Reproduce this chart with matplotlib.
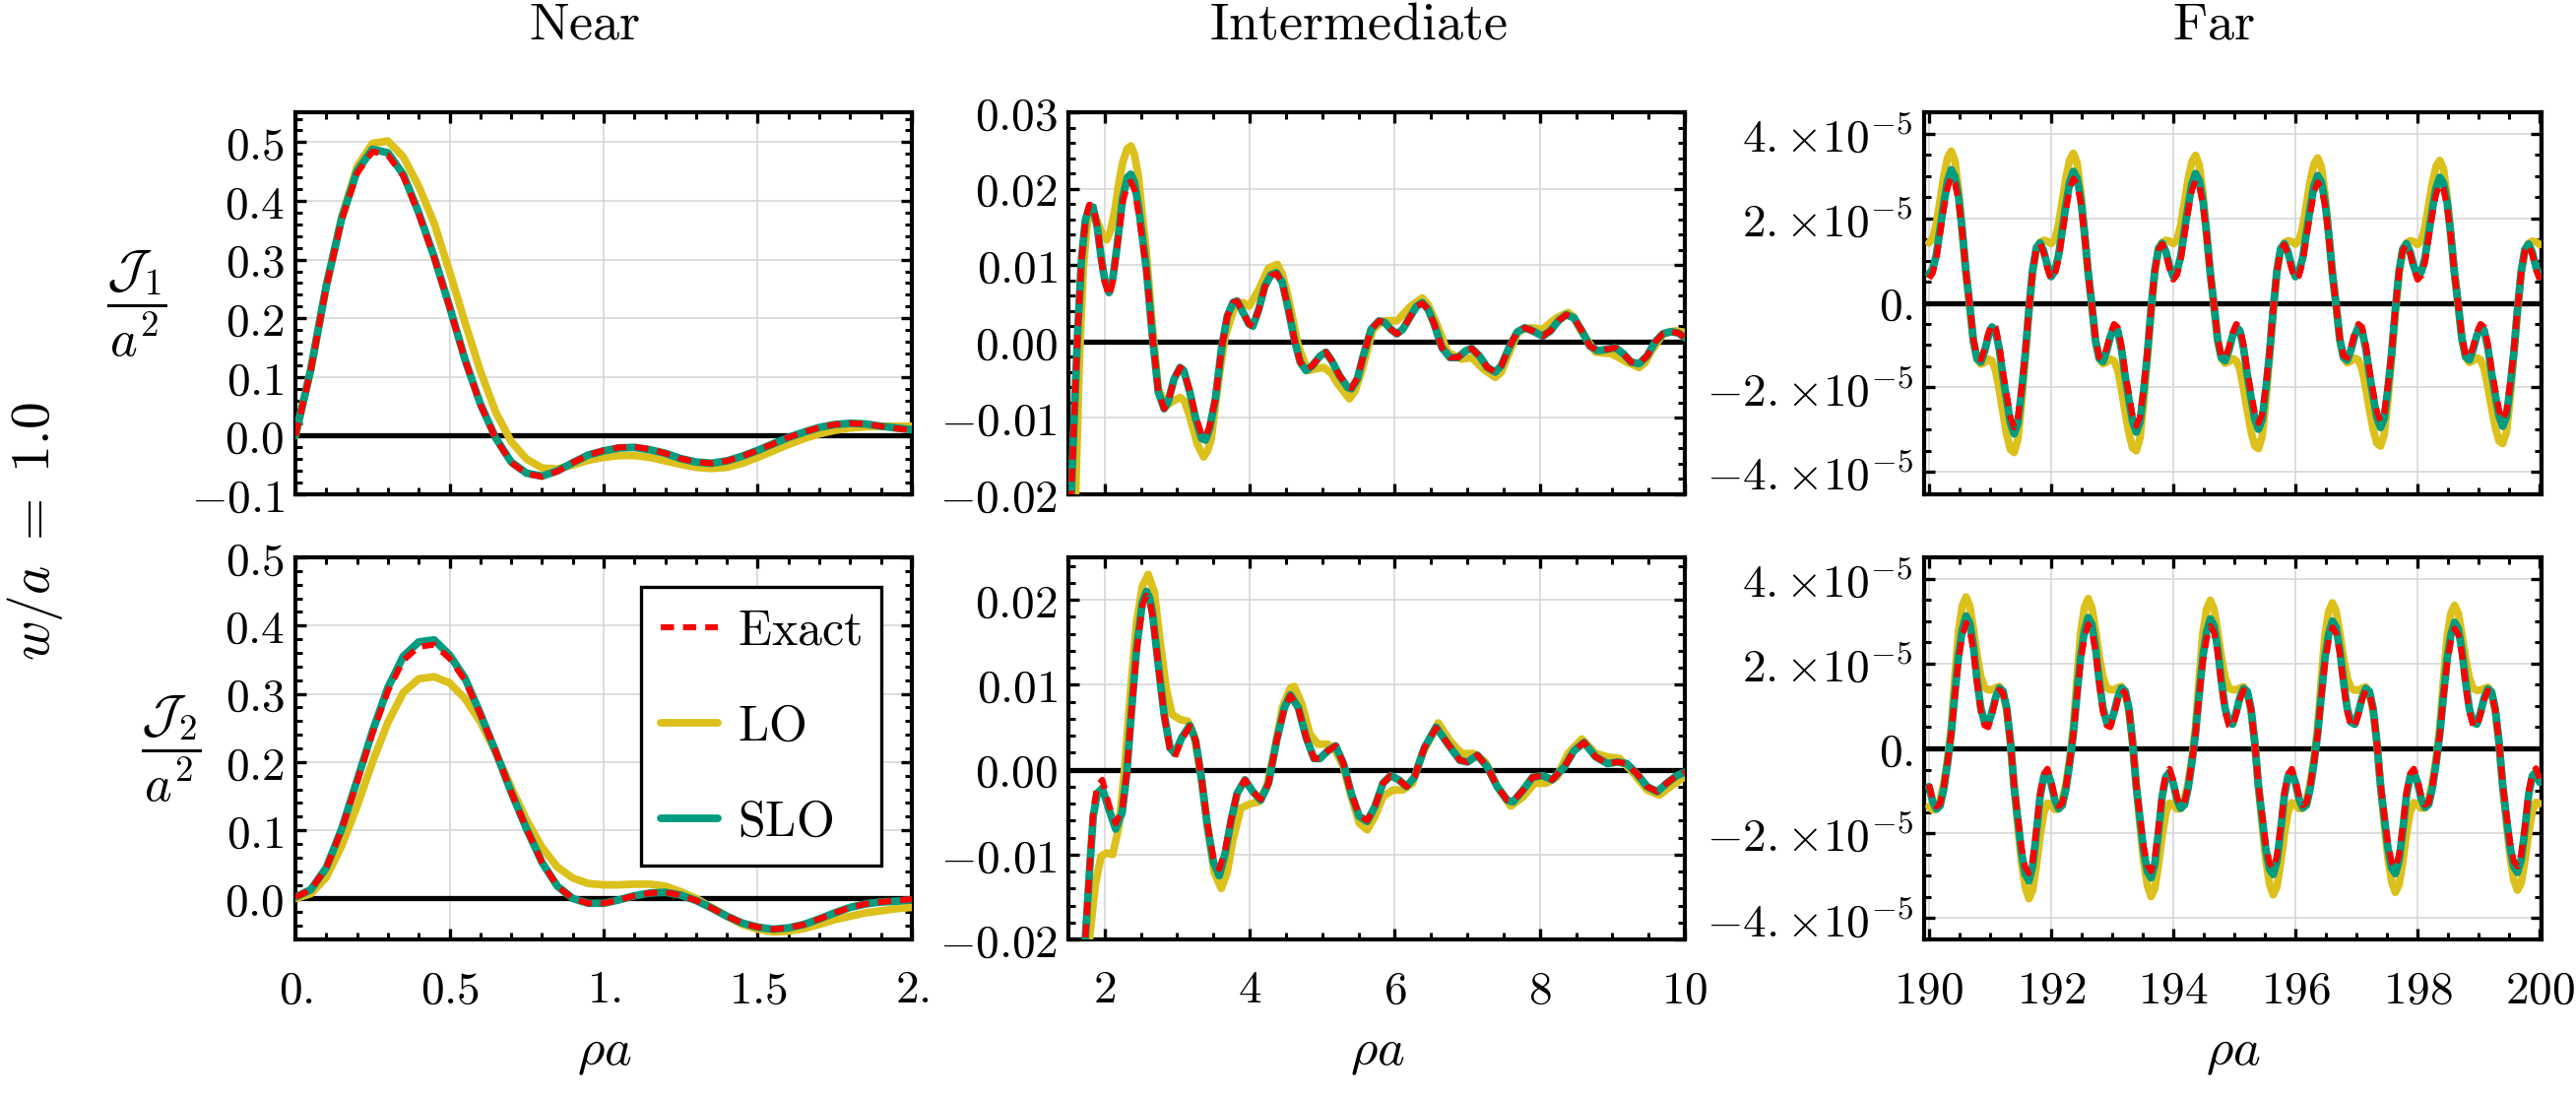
import numpy as np
import matplotlib
matplotlib.use("Agg")
import matplotlib.pyplot as plt
from matplotlib.ticker import MultipleLocator

plt.rcParams['mathtext.fontset'] = 'cm'
plt.rcParams['font.family'] = 'DejaVu Serif'

RED = '#ff0000'
GOLD = '#dcc01c'
TEAL = '#009c7f'
GRID = '#d5d5d5'

# ---------------- Near (rho a in [0, 2]) ----------------
near_x = np.linspace(0, 2, 41)

near1_slo = [0.0, 0.113, 0.255, 0.37, 0.451, 0.488, 0.482, 0.445, 0.38, 0.305,
             0.22, 0.13, 0.054, -0.004, -0.045, -0.064, -0.069, -0.06, -0.046, -0.033,
             -0.026, -0.021, -0.02, -0.024, -0.03, -0.039, -0.045, -0.047, -0.043, -0.035,
             -0.025, -0.014, -0.003, 0.006, 0.014, 0.019, 0.021, 0.02, 0.016, 0.013, 0.01]
near1_exact = [0.0, 0.112, 0.253, 0.367, 0.447, 0.484, 0.478, 0.442, 0.378, 0.303,
               0.219, 0.129, 0.053, -0.005, -0.046, -0.065, -0.07, -0.061, -0.046, -0.033,
               -0.025, -0.02, -0.019, -0.023, -0.03, -0.039, -0.045, -0.047, -0.043, -0.035,
               -0.025, -0.014, -0.003, 0.006, 0.014, 0.019, 0.021, 0.02, 0.016, 0.012, 0.009]
near1_lo = [0.0, 0.113, 0.255, 0.372, 0.458, 0.498, 0.502, 0.475, 0.425, 0.362,
            0.28, 0.193, 0.11, 0.04, -0.01, -0.04, -0.055, -0.057, -0.05, -0.042,
            -0.037, -0.034, -0.034, -0.037, -0.043, -0.049, -0.054, -0.056, -0.054, -0.047,
            -0.037, -0.026, -0.015, -0.005, 0.003, 0.009, 0.013, 0.015, 0.016, 0.016, 0.016]

near2_slo = [0.002, 0.013, 0.045, 0.102, 0.173, 0.245, 0.309, 0.355, 0.376, 0.379,
             0.357, 0.323, 0.271, 0.215, 0.156, 0.102, 0.053, 0.018, 0.0, -0.007,
             -0.007, -0.002, 0.004, 0.008, 0.009, 0.005, -0.003, -0.014, -0.026, -0.036,
             -0.042, -0.045, -0.043, -0.038, -0.03, -0.021, -0.013, -0.008, -0.005, -0.004, -0.002]
near2_exact = [0.002, 0.013, 0.045, 0.101, 0.171, 0.242, 0.304, 0.349, 0.369, 0.372,
               0.352, 0.32, 0.27, 0.215, 0.156, 0.102, 0.053, 0.018, 0.0, -0.007,
               -0.007, -0.002, 0.004, 0.008, 0.009, 0.005, -0.003, -0.014, -0.026, -0.036,
               -0.042, -0.045, -0.043, -0.038, -0.03, -0.021, -0.013, -0.008, -0.005, -0.003, -0.001]
near2_lo = [0.0, 0.007, 0.031, 0.077, 0.135, 0.2, 0.258, 0.302, 0.322, 0.325,
            0.316, 0.293, 0.259, 0.214, 0.163, 0.115, 0.075, 0.046, 0.03, 0.022,
            0.02, 0.02, 0.021, 0.021, 0.018, 0.01, 0.0, -0.013, -0.026, -0.038,
            -0.045, -0.049, -0.048, -0.044, -0.038, -0.031, -0.026, -0.021, -0.018, -0.015, -0.013]

# ---------------- Intermediate (rho a in [1.5, 10]) ----------------
inter1_x = [1.5, 1.54, 1.57, 1.625, 1.68, 1.734, 1.788, 1.84, 1.897, 1.95,
            2.0, 2.06, 2.11, 2.17, 2.25, 2.315, 2.36, 2.41, 2.467, 2.52,
            2.576, 2.658, 2.74, 2.82, 2.875, 2.957, 3.04, 3.09, 3.174, 3.255,
            3.337, 3.39, 3.446, 3.527, 3.61, 3.69, 3.77, 3.826, 3.908, 3.99,
            4.043, 4.125, 4.207, 4.29, 4.37, 4.45, 4.533, 4.614, 4.696, 4.777,
            4.86, 4.97, 5.05, 5.13, 5.24, 5.35, 5.4, 5.484, 5.565, 5.674,
            5.783, 5.86, 5.946, 6.03, 6.11, 6.217, 6.3, 6.38, 6.46, 6.543,
            6.65, 6.76, 6.87, 6.98, 7.06, 7.168, 7.277, 7.386, 7.467, 7.576,
            7.685, 7.793, 7.9, 8.04, 8.147, 8.255, 8.364, 8.47, 8.58, 8.69,
            8.8, 8.935, 9.043, 9.152, 9.26, 9.37, 9.478, 9.587, 9.696, 9.804,
            9.913, 10.0]
inter1_slo = [-0.03, -0.02, -0.0122, 0.0007, 0.0107, 0.0159, 0.0176, 0.0176, 0.015, 0.0111,
              0.0081, 0.0064, 0.0081, 0.0124, 0.0189, 0.0215, 0.0219, 0.0209, 0.0176, 0.0137,
              0.0094, 0.0007, -0.0066, -0.0088, -0.0079, -0.0049, -0.0034, -0.0038, -0.0066, -0.0101,
              -0.0127, -0.0129, -0.0114, -0.0075, -0.001, 0.0033, 0.0051, 0.0053, 0.0038, 0.0023,
              0.002, 0.0042, 0.0072, 0.0087, 0.009, 0.0077, 0.0042, 0.0003, -0.0027, -0.0038,
              -0.0032, -0.0019, -0.0014, -0.0025, -0.0045, -0.006, -0.0062, -0.0049, -0.0019, 0.0016,
              0.0027, 0.0025, 0.0016, 0.001, 0.0016, 0.0033, 0.0046, 0.0051, 0.0042, 0.0023,
              -0.0008, -0.0021, -0.0021, -0.0012, -0.0009, -0.0019, -0.0034, -0.004, -0.0032, -0.0008,
              0.0012, 0.0018, 0.0014, 0.0007, 0.0014, 0.0027, 0.0035, 0.0031, 0.0014, -0.0006,
              -0.0012, -0.001, -0.0008, -0.0016, -0.0027, -0.0029, -0.0019, -0.0001, 0.001, 0.0013,
              0.0011, 0.0005]
inter1_exact = [-0.03, -0.02, -0.0122, 0.0007, 0.0107, 0.016, 0.0179, 0.0178, 0.0151, 0.0109,
                0.0078, 0.0059, 0.0078, 0.0121, 0.0183, 0.0205, 0.0209, 0.0199, 0.0168, 0.0132,
                0.0092, 0.0007, -0.0066, -0.0088, -0.0079, -0.0049, -0.0034, -0.0038, -0.0065, -0.0098,
                -0.0122, -0.0125, -0.0111, -0.0074, -0.001, 0.0033, 0.0051, 0.0053, 0.0038, 0.0023,
                0.002, 0.0042, 0.0071, 0.0086, 0.0089, 0.0076, 0.0042, 0.0003, -0.0027, -0.0037,
                -0.0032, -0.0019, -0.0014, -0.0025, -0.0045, -0.0059, -0.0061, -0.0048, -0.0019, 0.0016,
                0.0027, 0.0025, 0.0016, 0.001, 0.0016, 0.0033, 0.0046, 0.005, 0.0042, 0.0023,
                -0.0008, -0.0021, -0.0021, -0.0012, -0.0009, -0.0019, -0.0034, -0.004, -0.0032, -0.0008,
                0.0012, 0.0018, 0.0014, 0.0007, 0.0014, 0.0027, 0.0035, 0.0031, 0.0014, -0.0006,
                -0.0012, -0.001, -0.0008, -0.0016, -0.0027, -0.0029, -0.0019, -0.0001, 0.001, 0.0013,
                0.0011, 0.0005]
inter1_lo_x = [1.58, 1.6, 1.652, 1.707, 1.76, 1.79, 1.84, 1.92, 1.98, 2.03,
               2.08, 2.14, 2.2, 2.25, 2.31, 2.36, 2.41, 2.467, 2.52, 2.576,
               2.658, 2.74, 2.85, 2.93, 3.04, 3.1, 3.17, 3.28, 3.364, 3.42,
               3.47, 3.58, 3.663, 3.8, 3.91, 3.99, 4.125, 4.26, 4.38, 4.45,
               4.53, 4.67, 4.8, 4.9, 5.02, 5.13, 5.21, 5.375, 5.45, 5.54,
               5.7, 5.84, 6.03, 6.217, 6.38, 6.46, 6.57, 6.73, 6.92, 7.06,
               7.22, 7.386, 7.47, 7.55, 7.71, 7.875, 8.04, 8.23, 8.39, 8.47,
               8.554, 8.77, 8.99, 9.2, 9.37, 9.45, 9.53, 9.7, 9.86, 10.0]
inter1_lo = [-0.03, -0.02, -0.0023, 0.0098, 0.0155, 0.0163, 0.017, 0.0152, 0.0138, 0.0133,
             0.0145, 0.0172, 0.021, 0.0235, 0.0252, 0.0256, 0.0245, 0.0215, 0.0165, 0.0116,
             0.002, -0.0062, -0.0084, -0.0079, -0.0073, -0.0078, -0.0097, -0.0135, -0.0151, -0.0143,
             -0.0127, -0.0045, 0.0007, 0.0048, 0.0051, 0.0046, 0.0068, 0.0096, 0.0101, 0.0088,
             0.0059, -0.0006, -0.0038, -0.0036, -0.0034, -0.0042, -0.0055, -0.0075, -0.0065, -0.004,
             0.0016, 0.0027, 0.0027, 0.0046, 0.0057, 0.0048, 0.0025, -0.0014, -0.0023, -0.0021,
             -0.0036, -0.0047, -0.004, -0.0021, 0.0014, 0.0018, 0.0016, 0.0031, 0.0038, 0.0032,
             0.0016, -0.0014, -0.0016, -0.0027, -0.0034, -0.0028, -0.0014, 0.001, 0.0014, 0.0012]

inter2_x = [1.7, 1.734, 1.79, 1.842, 1.897, 1.967, 2.06, 2.152, 2.24, 2.304,
            2.37, 2.44, 2.52, 2.576, 2.62, 2.658, 2.74, 2.82, 2.9, 2.967,
            3.065, 3.174, 3.255, 3.337, 3.418, 3.5, 3.58, 3.663, 3.745, 3.826,
            3.935, 4.043, 4.152, 4.26, 4.37, 4.478, 4.56, 4.67, 4.777, 4.886,
            4.967, 5.076, 5.185, 5.293, 5.4, 5.51, 5.62, 5.728, 5.837, 5.946,
            6.054, 6.163, 6.27, 6.41, 6.57, 6.734, 6.897, 7.005, 7.14, 7.277,
            7.413, 7.55, 7.63, 7.77, 7.9, 8.04, 8.17, 8.337, 8.47, 8.61,
            8.77, 8.935, 9.07, 9.2, 9.34, 9.48, 9.62, 9.75, 9.89, 10.0]
inter2_slo = [-0.025, -0.0198, -0.0121, -0.0055, -0.0028, -0.0022, -0.0047, -0.007, -0.0051, -0.0005,
              0.0069, 0.0143, 0.0197, 0.021, 0.0202, 0.0185, 0.0123, 0.0065, 0.0026, 0.0019,
              0.0038, 0.0052, 0.0034, -0.0012, -0.0067, -0.0109, -0.0125, -0.0098, -0.0059, -0.0028,
              -0.0012, -0.0026, -0.0036, -0.0016, 0.0034, 0.0073, 0.0088, 0.0073, 0.0038, 0.0013,
              0.0013, 0.0022, 0.0028, 0.0007, -0.0028, -0.0055, -0.0061, -0.0043, -0.0016, -0.0007,
              -0.0012, -0.002, -0.0009, 0.0026, 0.005, 0.003, 0.0011, 0.0009, 0.0017, 0.0003,
              -0.002, -0.0036, -0.0038, -0.0024, -0.0009, -0.0007, -0.0012, 0.0003, 0.0022, 0.0032,
              0.0015, 0.0007, 0.0009, 0.0007, -0.0005, -0.002, -0.0026, -0.0016, -0.0007, -0.0003]
inter2_exact = [-0.025, -0.0198, -0.0118, -0.0048, -0.002, -0.0012, -0.0042, -0.0063, -0.0048, -0.0005,
                0.0068, 0.0139, 0.0193, 0.0205, 0.0198, 0.0182, 0.0122, 0.0064, 0.0024, 0.0015,
                0.0036, 0.0051, 0.0034, -0.0012, -0.0065, -0.0104, -0.0117, -0.0094, -0.0058, -0.0027,
                -0.0012, -0.0026, -0.0035, -0.0016, 0.0034, 0.0072, 0.0087, 0.0072, 0.0038, 0.0013,
                0.0013, 0.0022, 0.0028, 0.0007, -0.0028, -0.0054, -0.006, -0.0043, -0.0016, -0.0007,
                -0.0012, -0.002, -0.0009, 0.0026, 0.0049, 0.003, 0.0011, 0.0009, 0.0017, 0.0003,
                -0.002, -0.0036, -0.0037, -0.0024, -0.0009, -0.0007, -0.0012, 0.0003, 0.0022, 0.0032,
                0.0015, 0.0007, 0.0009, 0.0007, -0.0005, -0.002, -0.0026, -0.0016, -0.0007, -0.0003]
inter2_lo_x = [1.77, 1.79, 1.87, 1.95, 2.03, 2.11, 2.196, 2.277, 2.36, 2.44,
               2.52, 2.6, 2.685, 2.766, 2.848, 2.93, 3.04, 3.147, 3.228, 3.337,
               3.418, 3.51, 3.608, 3.69, 3.77, 3.88, 4.016, 4.125, 4.234, 4.342,
               4.45, 4.56, 4.614, 4.72, 4.83, 4.94, 5.076, 5.185, 5.293, 5.4,
               5.51, 5.62, 5.728, 5.837, 5.973, 6.11, 6.245, 6.38, 6.6, 6.76,
               6.924, 7.087, 7.25, 7.413, 7.6, 7.77, 7.93, 8.09, 8.23, 8.39,
               8.58, 8.77, 8.935, 9.1, 9.26, 9.48, 9.65, 9.8, 10.0]
inter2_lo = [-0.026, -0.02, -0.0136, -0.0102, -0.0098, -0.01, -0.0067, 0.0003, 0.0096, 0.0174,
             0.0216, 0.023, 0.0209, 0.015, 0.0096, 0.0065, 0.0059, 0.0057, 0.0042, -0.0012,
             -0.0067, -0.0121, -0.014, -0.0121, -0.0082, -0.0045, -0.004, -0.0038, -0.002, 0.0022,
             0.0073, 0.0096, 0.0098, 0.0077, 0.0042, 0.003, 0.003, 0.0022, 0.0003, -0.0032,
             -0.0063, -0.0071, -0.0055, -0.0032, -0.0024, -0.0024, -0.0016, 0.0019, 0.0055, 0.0034,
             0.0019, 0.0019, 0.0009, -0.002, -0.0043, -0.0032, -0.0016, -0.0016, -0.0009, 0.0019,
             0.0036, 0.0019, 0.0015, 0.0013, -0.0001, -0.0024, -0.003, -0.002, -0.0008]

# ---------------- Far (rho a in [190, 200]), values in units of 1e-5 ----------------
# one sub-list per 2-unit oscillation (33 samples each) plus the closing sample at 200
far_x = np.linspace(190, 200, 166)

far1_slo = [
    [0.68, 0.8, 1.15, 1.75, 2.35, 2.88, 3.15, 2.98, 2.5, 1.7, 0.72, -0.05, -0.9, -1.33, -1.4, -1.15, -0.8,
     -0.57, -0.66, -1.1, -1.75, -2.3, -2.84, -3.1, -2.85, -2.1, -1.22, -0.15, 0.78, 1.3, 1.42, 1.22, 0.88],
    [0.62, 0.76, 1.12, 1.72, 2.32, 2.85, 3.11, 2.95, 2.47, 1.68, 0.72, -0.05, -0.9, -1.32, -1.39, -1.14, -0.8,
     -0.57, -0.66, -1.1, -1.74, -2.28, -2.8, -3.06, -2.82, -2.08, -1.21, -0.15, 0.77, 1.29, 1.41, 1.21, 0.87],
    [0.62, 0.75, 1.1, 1.7, 2.28, 2.8, 3.06, 2.9, 2.43, 1.65, 0.7, -0.05, -0.88, -1.3, -1.37, -1.13, -0.79,
     -0.57, -0.66, -1.08, -1.7, -2.24, -2.74, -2.99, -2.76, -2.04, -1.2, -0.15, 0.76, 1.28, 1.4, 1.2, 0.86],
    [0.62, 0.74, 1.08, 1.67, 2.24, 2.76, 3.01, 2.86, 2.4, 1.63, 0.69, -0.05, -0.87, -1.29, -1.36, -1.12, -0.79,
     -0.57, -0.65, -1.07, -1.68, -2.21, -2.71, -2.95, -2.73, -2.02, -1.19, -0.15, 0.75, 1.27, 1.4, 1.2, 0.86],
    [0.62, 0.73, 1.06, 1.64, 2.21, 2.72, 2.97, 2.83, 2.37, 1.61, 0.68, -0.05, -0.86, -1.28, -1.35, -1.11, -0.78,
     -0.57, -0.65, -1.06, -1.66, -2.18, -2.67, -2.92, -2.7, -2.0, -1.18, -0.15, 0.74, 1.26, 1.39, 1.19, 0.85],
    [0.62],
]
far1_exact = [
    [0.58, 0.7, 1.05, 1.65, 2.23, 2.73, 2.98, 2.84, 2.4, 1.64, 0.7, -0.05, -0.87, -1.29, -1.34, -1.08, -0.72,
     -0.5, -0.58, -1.02, -1.65, -2.18, -2.7, -2.95, -2.72, -2.02, -1.18, -0.14, 0.76, 1.27, 1.4, 1.18, 0.8],
    [0.55, 0.67, 1.02, 1.62, 2.2, 2.7, 2.94, 2.81, 2.37, 1.62, 0.7, -0.05, -0.87, -1.28, -1.33, -1.07, -0.72,
     -0.5, -0.58, -1.02, -1.64, -2.16, -2.66, -2.91, -2.69, -2.0, -1.17, -0.14, 0.75, 1.26, 1.39, 1.17, 0.8],
    [0.55, 0.66, 1.0, 1.6, 2.16, 2.65, 2.9, 2.76, 2.33, 1.59, 0.68, -0.05, -0.85, -1.26, -1.31, -1.06, -0.71,
     -0.5, -0.58, -1.0, -1.61, -2.12, -2.6, -2.84, -2.63, -1.96, -1.16, -0.14, 0.74, 1.25, 1.38, 1.16, 0.79],
    [0.55, 0.65, 0.98, 1.57, 2.12, 2.61, 2.85, 2.72, 2.3, 1.57, 0.67, -0.05, -0.84, -1.25, -1.3, -1.05, -0.71,
     -0.5, -0.57, -0.99, -1.59, -2.09, -2.57, -2.8, -2.6, -1.94, -1.15, -0.14, 0.73, 1.24, 1.38, 1.16, 0.79],
    [0.55, 0.64, 0.96, 1.54, 2.09, 2.57, 2.81, 2.69, 2.27, 1.55, 0.66, -0.05, -0.83, -1.24, -1.29, -1.04, -0.7,
     -0.5, -0.57, -0.98, -1.57, -2.06, -2.53, -2.77, -2.57, -1.92, -1.14, -0.14, 0.72, 1.23, 1.37, 1.15, 0.78],
    [0.55],
]
far1_lo = [
    [1.42, 1.53, 1.88, 2.43, 3.0, 3.43, 3.59, 3.36, 2.66, 1.65, 0.72, -0.09, -0.91, -1.33, -1.45, -1.41, -1.33,
     -1.37, -1.6, -2.07, -2.61, -3.12, -3.47, -3.54, -3.23, -2.38, -1.29, -0.21, 0.72, 1.26, 1.43, 1.48, 1.46],
    [1.4, 1.5, 1.85, 2.4, 2.96, 3.38, 3.54, 3.32, 2.63, 1.63, 0.72, -0.09, -0.9, -1.32, -1.44, -1.4, -1.33,
     -1.37, -1.59, -2.05, -2.58, -3.08, -3.43, -3.5, -3.2, -2.36, -1.28, -0.21, 0.72, 1.26, 1.43, 1.48, 1.46],
    [1.4, 1.49, 1.83, 2.37, 2.92, 3.33, 3.49, 3.27, 2.6, 1.61, 0.71, -0.09, -0.89, -1.31, -1.43, -1.39, -1.32,
     -1.36, -1.58, -2.03, -2.55, -3.04, -3.38, -3.45, -3.16, -2.33, -1.27, -0.21, 0.71, 1.25, 1.42, 1.47, 1.45],
    [1.39, 1.48, 1.81, 2.34, 2.88, 3.28, 3.43, 3.22, 2.56, 1.59, 0.7, -0.09, -0.88, -1.3, -1.42, -1.38, -1.31,
     -1.35, -1.57, -2.01, -2.52, -2.99, -3.32, -3.39, -3.11, -2.3, -1.26, -0.21, 0.7, 1.25, 1.42, 1.47, 1.45],
    [1.38, 1.47, 1.79, 2.31, 2.84, 3.23, 3.37, 3.17, 2.52, 1.57, 0.69, -0.09, -0.87, -1.29, -1.41, -1.37, -1.3,
     -1.34, -1.56, -1.99, -2.49, -2.94, -3.27, -3.33, -3.06, -2.27, -1.25, -0.21, 0.7, 1.24, 1.41, 1.46, 1.44],
    [1.38],
]

far2_slo = [
    [-0.9, -1.25, -1.43, -1.35, -0.95, -0.35, 0.35, 1.3, 2.2, 2.8, 3.12, 2.95, 2.4, 1.6, 0.95, 0.62, 0.57,
     0.85, 1.2, 1.42, 1.35, 0.95, 0.15, -0.9, -1.68, -2.46, -2.96, -3.12, -2.77, -2.0, -1.14, -0.67, -0.56],
    [-0.82, -1.22, -1.42, -1.34, -0.95, -0.35, 0.35, 1.29, 2.18, 2.77, 3.08, 2.92, 2.37, 1.59, 0.95, 0.62, 0.57,
     0.85, 1.2, 1.42, 1.35, 0.95, 0.15, -0.89, -1.66, -2.42, -2.9, -3.05, -2.72, -1.97, -1.13, -0.67, -0.56],
    [-0.82, -1.21, -1.41, -1.33, -0.94, -0.35, 0.35, 1.28, 2.16, 2.74, 3.05, 2.89, 2.35, 1.58, 0.94, 0.62, 0.57,
     0.85, 1.2, 1.41, 1.34, 0.94, 0.15, -0.88, -1.64, -2.37, -2.84, -2.97, -2.66, -1.94, -1.12, -0.66, -0.56],
    [-0.81, -1.2, -1.4, -1.33, -0.94, -0.35, 0.34, 1.26, 2.13, 2.7, 3.0, 2.85, 2.32, 1.57, 0.94, 0.62, 0.57,
     0.84, 1.19, 1.41, 1.34, 0.94, 0.15, -0.88, -1.63, -2.35, -2.82, -2.95, -2.64, -1.93, -1.11, -0.66, -0.56],
    [-0.81, -1.19, -1.39, -1.32, -0.93, -0.35, 0.34, 1.25, 2.11, 2.67, 2.97, 2.82, 2.3, 1.56, 0.93, 0.62, 0.57,
     0.84, 1.19, 1.4, 1.33, 0.93, 0.15, -0.87, -1.62, -2.33, -2.79, -2.92, -2.62, -1.91, -1.1, -0.65, -0.55],
    [-0.8],
]
far2_exact = [
    [-0.85, -1.2, -1.37, -1.3, -0.9, -0.33, 0.33, 1.25, 2.1, 2.65, 2.95, 2.8, 2.3, 1.52, 0.87, 0.54, 0.5,
     0.8, 1.15, 1.38, 1.3, 0.92, 0.14, -0.87, -1.6, -2.35, -2.8, -2.94, -2.62, -1.9, -1.06, -0.6, -0.48],
    [-0.75, -1.17, -1.36, -1.29, -0.9, -0.33, 0.33, 1.24, 2.08, 2.62, 2.92, 2.77, 2.28, 1.51, 0.87, 0.54, 0.5,
     0.8, 1.15, 1.38, 1.3, 0.92, 0.14, -0.86, -1.58, -2.31, -2.75, -2.89, -2.58, -1.87, -1.05, -0.6, -0.48],
    [-0.75, -1.16, -1.35, -1.28, -0.9, -0.33, 0.33, 1.23, 2.05, 2.59, 2.88, 2.74, 2.25, 1.5, 0.86, 0.54, 0.5,
     0.8, 1.15, 1.37, 1.29, 0.91, 0.14, -0.85, -1.56, -2.27, -2.7, -2.83, -2.53, -1.85, -1.04, -0.6, -0.48],
    [-0.74, -1.15, -1.34, -1.28, -0.89, -0.33, 0.32, 1.21, 2.03, 2.56, 2.85, 2.71, 2.23, 1.49, 0.86, 0.54, 0.5,
     0.79, 1.14, 1.37, 1.29, 0.91, 0.14, -0.85, -1.55, -2.25, -2.68, -2.81, -2.51, -1.84, -1.03, -0.59, -0.48],
    [-0.74, -1.14, -1.33, -1.27, -0.89, -0.33, 0.32, 1.2, 2.01, 2.54, 2.82, 2.68, 2.21, 1.48, 0.85, 0.54, 0.5,
     0.79, 1.14, 1.36, 1.28, 0.9, 0.14, -0.84, -1.54, -2.23, -2.66, -2.78, -2.49, -1.83, -1.02, -0.58, -0.47],
    [-0.72],
]
far2_lo = [
    [-1.37, -1.45, -1.43, -1.22, -0.83, -0.25, 0.5, 1.7, 2.78, 3.36, 3.57, 3.36, 2.81, 2.19, 1.69, 1.43, 1.38,
     1.38, 1.43, 1.46, 1.3, 0.88, 0.14, -0.91, -1.84, -2.69, -3.27, -3.54, -3.34, -2.77, -2.07, -1.53, -1.29],
    [-1.33, -1.44, -1.43, -1.22, -0.83, -0.25, 0.5, 1.68, 2.75, 3.32, 3.53, 3.32, 2.78, 2.17, 1.68, 1.43, 1.38,
     1.38, 1.43, 1.46, 1.3, 0.88, 0.14, -0.9, -1.82, -2.66, -3.23, -3.49, -3.3, -2.74, -2.05, -1.52, -1.29],
    [-1.33, -1.43, -1.42, -1.21, -0.82, -0.25, 0.5, 1.66, 2.72, 3.28, 3.49, 3.28, 2.75, 2.15, 1.67, 1.42, 1.38,
     1.38, 1.42, 1.45, 1.3, 0.88, 0.14, -0.89, -1.8, -2.63, -3.19, -3.45, -3.26, -2.71, -2.04, -1.51, -1.28],
    [-1.32, -1.42, -1.41, -1.21, -0.82, -0.25, 0.49, 1.64, 2.68, 3.23, 3.43, 3.23, 2.71, 2.13, 1.66, 1.42, 1.37,
     1.37, 1.42, 1.45, 1.29, 0.87, 0.14, -0.88, -1.78, -2.59, -3.14, -3.39, -3.21, -2.68, -2.02, -1.5, -1.28],
    [-1.32, -1.41, -1.4, -1.2, -0.81, -0.25, 0.49, 1.62, 2.64, 3.18, 3.37, 3.18, 2.67, 2.11, 1.65, 1.41, 1.37,
     1.37, 1.41, 1.44, 1.29, 0.87, 0.14, -0.87, -1.76, -2.56, -3.1, -3.34, -3.17, -2.65, -2.01, -1.49, -1.27],
    [-1.3],
]


def far(series):
    return np.concatenate([np.asarray(p, dtype=float) for p in series]) * 1e-5


# ---------------- figure ----------------
W, H = 2616, 1113
fig = plt.figure(figsize=(W / 100, H / 100), dpi=100)

col_left = [300, 1085, 1954]
col_w = [626, 626, 627]
row_top = [114, 566]
row_h = 388

axs = [[fig.add_axes([col_left[c] / W, 1 - (row_top[r] + row_h) / H, col_w[c] / W, row_h / H])
        for c in range(3)] for r in range(2)]


def curves(ax, x, exact, lo, slo, x_lo=None):
    if x_lo is None:
        x_lo = x
    ax.axhline(0, color='black', lw=3.8, zorder=2)
    l_lo, = ax.plot(x_lo, lo, color=GOLD, lw=5.6, solid_capstyle='round', zorder=3)
    l_slo, = ax.plot(x, slo, color=TEAL, lw=5.6, solid_capstyle='round', zorder=4)
    l_ex, = ax.plot(x, exact, color=RED, lw=4.4, ls=(0, (2.2, 1.5)), dash_capstyle='butt', zorder=5)
    return l_ex, l_lo, l_slo


def dress(ax, xlim, xt, xl, xminor, ylim, yt, yl, yminor, show_x):
    ax.set_xlim(*xlim)
    ax.set_ylim(*ylim)
    ax.set_xticks(xt)
    ax.set_xticklabels(xl if show_x else [])
    ax.set_yticks(yt)
    ax.set_yticklabels(yl)
    ax.xaxis.set_minor_locator(MultipleLocator(xminor))
    ax.yaxis.set_minor_locator(MultipleLocator(yminor))
    ax.grid(True, which='major', color=GRID, lw=1.1, zorder=0)
    ax.set_axisbelow(True)
    ax.tick_params(which='both', direction='in', top=True, right=True, labelsize=34)
    ax.tick_params(which='major', length=8, width=2.4)
    ax.tick_params(which='minor', length=5, width=2.2)
    ax.tick_params(axis='x', pad=21)
    ax.tick_params(axis='y', pad=8)
    for s in ax.spines.values():
        s.set_linewidth(3.0)


def m(s):
    return r'$' + s + r'$'


near_xt = [0, 0.5, 1, 1.5, 2]
near_xl = [m('0.'), m('0.5'), m('1.'), m('1.5'), m('2.')]
inter_xt = [2, 4, 6, 8, 10]
inter_xl = [m(str(v)) for v in inter_xt]
far_xt = [190, 192, 194, 196, 198, 200]
far_xl = [m(str(v)) for v in far_xt]
far_yt = [-4e-5, -2e-5, 0, 2e-5, 4e-5]
far_yl = [m(r'-4.{\times}10^{-5}'), m(r'-2.{\times}10^{-5}'), m('0.'),
          m(r'2.{\times}10^{-5}'), m(r'4.{\times}10^{-5}')]

# top row: J1
curves(axs[0][0], near_x, near1_exact, near1_lo, near1_slo)
dress(axs[0][0], (0, 2), near_xt, near_xl, 0.1, (-0.1, 0.551),
      [-0.1, 0, 0.1, 0.2, 0.3, 0.4, 0.5],
      [m('-0.1'), m('0.0'), m('0.1'), m('0.2'), m('0.3'), m('0.4'), m('0.5')], 0.02, False)

curves(axs[0][1], inter1_x, inter1_exact, inter1_lo, inter1_slo, x_lo=inter1_lo_x)
dress(axs[0][1], (1.5, 10), inter_xt, inter_xl, 0.5, (-0.02, 0.03),
      [-0.02, -0.01, 0, 0.01, 0.02, 0.03],
      [m('-0.02'), m('-0.01'), m('0.00'), m('0.01'), m('0.02'), m('0.03')], 0.002, False)

curves(axs[0][2], far_x, far(far1_exact), far(far1_lo), far(far1_slo))
dress(axs[0][2], (189.92, 200.03), far_xt, far_xl, 0.5, (-4.53e-5, 4.51e-5),
      far_yt, far_yl, 0.5e-5, False)

# bottom row: J2
handles = curves(axs[1][0], near_x, near2_exact, near2_lo, near2_slo)
dress(axs[1][0], (0, 2), near_xt, near_xl, 0.1, (-0.06, 0.5),
      [0, 0.1, 0.2, 0.3, 0.4, 0.5],
      [m('0.0'), m('0.1'), m('0.2'), m('0.3'), m('0.4'), m('0.5')], 0.02, True)

curves(axs[1][1], inter2_x, inter2_exact, inter2_lo, inter2_slo, x_lo=inter2_lo_x)
dress(axs[1][1], (1.5, 10), inter_xt, inter_xl, 0.5, (-0.02, 0.025),
      [-0.02, -0.01, 0, 0.01, 0.02],
      [m('-0.02'), m('-0.01'), m('0.00'), m('0.01'), m('0.02')], 0.002, True)

curves(axs[1][2], far_x, far(far2_exact), far(far2_lo), far(far2_slo))
dress(axs[1][2], (189.92, 200.03), far_xt, far_xl, 0.5, (-4.5e-5, 4.5e-5),
      far_yt, far_yl, 0.5e-5, True)

leg = axs[1][0].legend(handles, [m(r'\mathrm{Exact}'), m(r'\mathrm{LO}'), m(r'\mathrm{SLO}')],
                       loc='upper left', bbox_to_anchor=(0.561, 0.923), borderaxespad=0,
                       fontsize=36, handlelength=1.15, handletextpad=0.4,
                       labelspacing=0.95, borderpad=0.4, fancybox=False,
                       framealpha=1, edgecolor='black')
leg.get_frame().set_linewidth(2.4)

# column titles, row labels, axis labels
for xc, t in [(594, 'Near'), (1379, 'Intermediate'), (2248, 'Far')]:
    fig.text(xc / W, 1 - 25 / H, m(r'\mathrm{' + t + '}'), ha='center', va='center', fontsize=39)

fig.text(139 / W, 1 - 309 / H, m(r'\dfrac{\mathcal{J}_1}{a^2}'), ha='center', va='center', fontsize=38)
fig.text(174 / W, 1 - 761 / H, m(r'\dfrac{\mathcal{J}_2}{a^2}'), ha='center', va='center', fontsize=38)
fig.text(36 / W, 1 - 540 / H, m(r'w/a\ =\ 1.0'), ha='center', va='center', rotation=90, fontsize=40)

for xc in [614, 1399, 2268]:
    fig.text(xc / W, 1 - 1068 / H, m(r'\rho a'), ha='center', va='center', fontsize=38)

fig.savefig('out.png', dpi=100)
